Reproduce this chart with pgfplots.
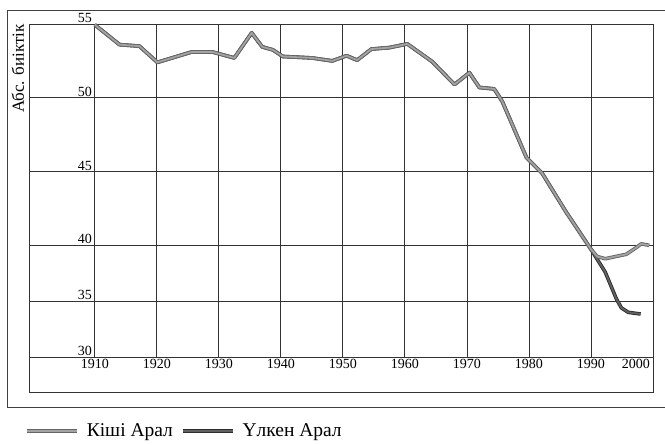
\documentclass[border=0pt]{standalone}
\usepackage{fontspec}
\setmainfont{Liberation Serif}
\usepackage{pgfplots}
\pgfplotsset{compat=1.18}
\pgfplotsset{
  kishi/.style={draw=black!60, double=black!36, double distance=1.8pt, line width=0.9pt, line join=round},
  ulken/.style={draw=black!82, double=black!62, double distance=1.8pt, line width=0.9pt, line join=round},
}
\begin{document}
\begin{tikzpicture}[x=1pt,y=1pt]
\useasboundingbox (0,0) rectangle (665,445);
\fill[white] (0,0) rectangle (665,445);
\draw[black!75, line width=0.9pt] (665,435) -- (7,435) -- (7,38) -- (665,38);
\begin{axis}[
  at={(29pt,88pt)}, anchor=south west,
  scale only axis, width=624pt, height=333pt,
  xmin=1899.4, xmax=2000, ymin=30, ymax=55,
  y coord trafo/.code={\pgfmathparse{#1<=40 ? (#1-30)*11.2 : 112+(#1-40)*14.8}},
  ytick={30,35,40,45,50,55}, yticklabels={30,35,40,45,50,55},
  xtick={1910,1920,...,1990},
  extra x ticks={2000},
  extra x tick style={grid=none, xticklabel style={anchor=north east, xshift=-1pt}},
  grid=major, major grid style={black!80, line width=0.8pt},
  axis line style={black!80, line width=0.8pt},
  major tick length=0pt,
  tick label style={font=\fontsize{14}{16}\selectfont, /pgf/number format/assume math mode=true, /pgf/number format/1000 sep={}},
  xticklabel style={inner sep=2pt},
  yticklabel style={anchor=south east, inner sep=1pt, xshift=64pt},
  legend image code/.code={\draw[#1] (0pt,0pt) -- (50pt,0pt); \path (56pt,0pt);},
  legend style={at={(-0.0064,-0.222)}, anchor=west, draw=none, fill=none, inner sep=0pt,
    font=\fontsize{19.5}{21}\selectfont, /tikz/every even column/.append style={column sep=6pt}},
  legend columns=2, legend cell align=left,
]
\addplot[ulken, forget plot] coordinates {
(1910,54.95) (1914,53.6) (1917.2,53.5) (1920.1,52.4) (1925.6,53.1) (1929,53.1)
(1932.5,52.7) (1935.3,54.4) (1937,53.45) (1938.7,53.25) (1940.3,52.8) (1945,52.7)
(1948.3,52.5) (1950.6,52.85) (1952.3,52.55) (1954.6,53.3) (1957.5,53.4) (1960.4,53.65)
(1964.4,52.45) (1968,50.9) (1970.4,51.7) (1972,50.7) (1974.4,50.6) (1975.7,49.75)
(1979.6,45.95) (1982.1,44.9) (1986,42.25) (1990,39.65)
(1992.3,37.6) (1994.1,35.2) (1994.9,34.4) (1996,34.0) (1998,33.85)
};
\addplot[kishi] coordinates {
(1910,54.95) (1914,53.6) (1917.2,53.5) (1920.1,52.4) (1925.6,53.1) (1929,53.1)
(1932.5,52.7) (1935.3,54.4) (1937,53.45) (1938.7,53.25) (1940.3,52.8) (1945,52.7)
(1948.3,52.5) (1950.6,52.85) (1952.3,52.55) (1954.6,53.3) (1957.5,53.4) (1960.4,53.65)
(1964.4,52.45) (1968,50.9) (1970.4,51.7) (1972,50.7) (1974.4,50.6) (1975.7,49.75)
(1979.6,45.95) (1982.1,44.9) (1986,42.25) (1990,39.65)
(1991,39.0) (1992.3,38.8) (1995.7,39.2) (1997.3,39.8) (1998.1,40.1) (1999.4,40.0)
};
\addlegendentry{Кіші Арал}
\addlegendimage{ulken}
\addlegendentry{Үлкен Арал}
\end{axis}
\draw[black!80, line width=0.8pt] (29,88) -- (29,53) -- (653,53) -- (653,88);
\node[rotate=90, font=\fontsize{17}{19}\selectfont] at (18,376.5) {Абс. биіктік};
\end{tikzpicture}
\end{document}
